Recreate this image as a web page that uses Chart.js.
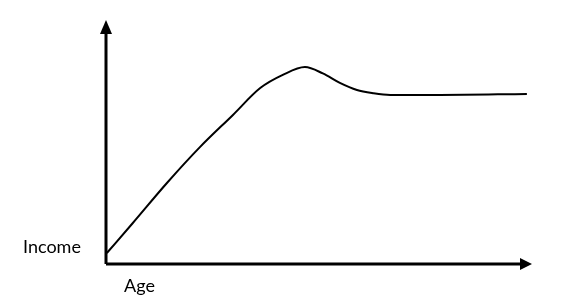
<!DOCTYPE html>
<html>
<head>
<meta charset="utf-8">
<script src="https://cdn.jsdelivr.net/npm/chart.js@4.4.0/dist/chart.umd.min.js"></script>
<style>
  body { margin: 0; background: #fff; }
  #income_chart { display: block; }
</style>
</head>
<body>
<canvas id="income_chart" width="562" height="308"></canvas>
<script>
// values (age and income in 0..100 units)
var ages = [0.2, 6.3, 14.3, 22.1, 29.8, 36.2, 41.5, 46.7, 50.9, 54.9, 58.9, 62.7, 66.7, 78.4, 98.8];
var incomes = [4.5, 16.8, 33.2, 48.0, 61.1, 72.1, 77.5, 80.7, 78.1, 74.2, 71.3, 70.0, 69.3, 69.3, 69.7];
var axisLabels = ['Age', 'Income'];

var points = [];
for (let i = 0; i < ages.length; i++) {
    points.push({x: ages[i], y: incomes[i]});
}

// axes with arrow heads + the two labels
var arrowAxes = {
    id: 'arrowAxes',
    afterDatasetsDraw: function (chart) {
        var c = chart.ctx;
        var a = chart.chartArea;
        c.save();
        c.strokeStyle = '#000';
        c.fillStyle = '#000';
        c.lineWidth = 3;
        c.beginPath();
        c.moveTo(a.left, a.bottom);
        c.lineTo(a.left, a.top + 13);
        c.moveTo(a.left, a.bottom);
        c.lineTo(a.right - 11, a.bottom);
        c.stroke();
        // y arrow
        c.beginPath();
        c.moveTo(a.left, a.top);
        c.lineTo(a.left - 6, a.top + 14);
        c.lineTo(a.left + 6, a.top + 14);
        c.closePath();
        c.fill();
        // x arrow
        c.beginPath();
        c.moveTo(a.right, a.bottom);
        c.lineTo(a.right - 12, a.bottom - 6);
        c.lineTo(a.right - 12, a.bottom + 6);
        c.closePath();
        c.fill();

        c.font = '18px Lato';
        c.textBaseline = 'middle';
        c.textAlign = 'left';
        c.fillText(axisLabels[1], 23, 247);
        c.fillText(axisLabels[0], 124, 286);
        c.restore();
    }
};

var ctx = document.getElementById('income_chart').getContext('2d');
var incomeChart = new Chart(ctx, {
    type: 'line',
    data: {
        datasets: [{
            data: points,
            borderColor: '#000',
            borderWidth: 2,
            pointRadius: 0,
            cubicInterpolationMode: 'monotone',
            fill: false
        }]
    },
    options: {
        responsive: false,
        animation: false,
        layout: { padding: { left: 106, right: 30, top: 20, bottom: 44 } },
        plugins: { legend: { display: false }, tooltip: { enabled: false } },
        scales: {
            x: { type: 'linear', min: 0, max: 100, display: false },
            y: { min: 0, max: 100, display: false }
        }
    },
    plugins: [arrowAxes]
});
</script>
</body>
</html>
